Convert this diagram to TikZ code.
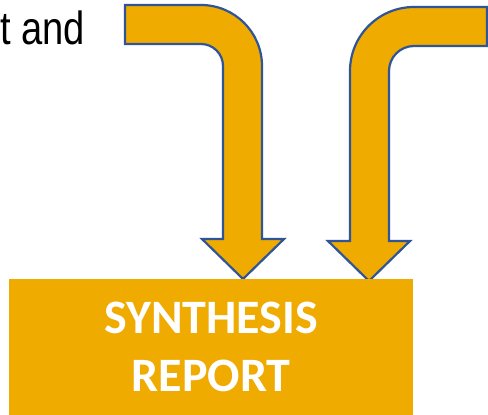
\documentclass[tikz,border=0pt]{standalone}
\usepackage{fontspec}
\setmainfont{Carlito}
\newfontfamily\narrowfont{Liberation Sans}
\definecolor{arrowfill}{HTML}{F0AB00}
\definecolor{arrowline}{HTML}{2F5597}
\begin{document}
\begin{tikzpicture}[x=1pt,y=-1pt,
  bentarrow/.style={fill=arrowfill,draw=arrowline,line width=2.2pt,line join=miter},
  reportbox/.style={rectangle,fill=arrowfill,inner sep=0pt,minimum width=404pt,minimum height=136pt,
    text=white,font=\bfseries\fontsize{48}{58}\selectfont,align=center}]
\useasboundingbox (0,0) rectangle (488,415);
\clip (0,0) rectangle (488,415);
\fill[white] (0,0) rectangle (488,415);
% left text fragment
\node[anchor=base west,inner sep=0pt,font=\narrowfont\fontsize{46.5}{50}\selectfont,xscale=0.82] (frag) at (0,45) {t and};
% left bent arrow
\draw[bentarrow] (125,5) -- (201,5) arc(-90:0:61) -- (262,239) -- (284,239) -- (243,279)
  -- (202,239) -- (223,239) -- (223,66) arc(0:-90:22) -- (125,44) -- cycle;
% right bent arrow
\draw[bentarrow] (487,7) -- (414,7) arc(-90:-180:64) -- (350,241) -- (328,241) -- (369,281)
  -- (410,241) -- (389,241) -- (389,71) arc(180:270:25) -- (487,46) -- cycle;
% report box
\node[reportbox] (report) at (211,347) {SYNTHESIS\\REPORT};
\end{tikzpicture}
\end{document}
